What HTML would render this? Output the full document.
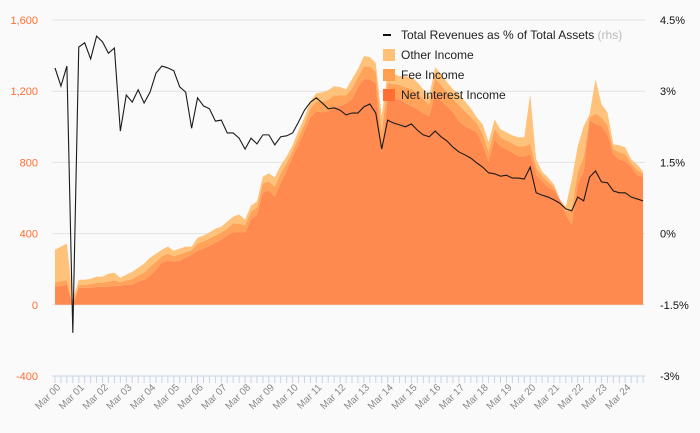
<!DOCTYPE html>
<html><head><meta charset="utf-8"><style>
html,body{margin:0;padding:0;background:#fafafa}
svg{display:block;font-family:"Liberation Sans",sans-serif}
</style></head><body>
<svg id="chart" width="700" height="433"></svg>
<script>
const nii=[101,107,113,0,96,96,96,101,101,101,107,107,113,113,130,141,163,197,237,248,242,248,265,282,304,316,332,349,366,389,406,406,406,479,507,631,642,608,682,755,828,901,975,1054,1087,1082,1087,1110,1116,1132,1155,1223,1268,1268,1245,856,1155,1155,1155,1132,1116,1099,1076,1059,1183,1144,1116,1082,1031,1003,986,969,901,806,930,890,873,856,834,834,845,732,693,659,642,592,507,451,676,749,1037,1014,1003,958,845,817,806,777,727,721];
const fee=[25,25,25,0,15,15,20,22,22,30,30,20,25,30,35,40,50,45,35,40,30,35,30,25,40,40,40,40,40,40,50,50,40,45,40,50,50,55,55,40,35,40,40,50,55,60,65,65,60,45,60,55,70,70,65,110,90,85,80,90,95,90,80,65,90,90,80,75,90,85,70,50,60,50,60,50,50,50,55,55,60,40,30,30,20,0,20,80,70,80,15,60,50,50,30,40,40,20,30,15];
const other=[184,195,206,28,30,30,30,35,35,44,43,25,31,43,43,50,52,45,38,39,32,33,32,20,33,33,34,39,33,39,40,51,33,34,33,40,46,53,46,39,33,39,39,40,47,52,54,53,47,34,53,46,59,54,48,93,62,56,50,63,68,62,55,48,62,62,55,54,62,56,48,35,53,57,52,46,46,46,52,52,278,45,26,27,14,0,25,173,144,174,18,194,74,74,26,39,39,20,32,13];
const ratio=[3.49,3.11,3.53,-2.09,3.93,4.02,3.68,4.16,4.04,3.80,3.91,2.16,2.92,2.77,3.03,2.75,2.98,3.38,3.53,3.49,3.43,3.09,2.98,2.22,2.86,2.69,2.63,2.37,2.39,2.12,2.12,2.01,1.78,2.01,1.89,2.08,2.08,1.87,2.04,2.06,2.12,2.35,2.60,2.77,2.86,2.75,2.63,2.65,2.60,2.50,2.54,2.54,2.67,2.73,2.54,1.78,2.39,2.33,2.29,2.25,2.31,2.18,2.08,2.04,2.16,2.04,1.95,1.82,1.72,1.66,1.59,1.49,1.40,1.28,1.26,1.21,1.23,1.17,1.17,1.15,1.40,0.86,0.81,0.77,0.71,0.64,0.52,0.48,0.77,0.69,1.19,1.32,1.09,1.07,0.90,0.86,0.86,0.77,0.73,0.69];
const years=["00","01","02","03","04","05","06","07","08","09","10","11","12","13","14","15","16","17","18","19","20","21","22","23","24"];
const leftTicks=[1600,1200,800,400,0,-400];
const leftLabels=["1,600","1,200","800","400","0","-400"];
const rightTicks=[4.5,3,1.5,0,-1.5,-3];
const rightLabels=["4.5%","3%","1.5%","0%","-1.5%","-3%"];

const NS="http://www.w3.org/2000/svg";
const svg=document.getElementById('chart');
const X0=55,STEP=5.94,PL=52,PR=645,YT=20,YB=376;
const x=i=>X0+STEP*i;
const yL=v=>YB-(v+400)/2000*(YB-YT);
const yR=p=>YB-(p+3)/7.5*(YB-YT);
function el(t,a,p){const e=document.createElementNS(NS,t);for(const k in a)e.setAttribute(k,a[k]);(p||svg).appendChild(e);return e;}

const grid=el('g',{});


leftTicks.forEach((v,k)=>{
  if(v>-400){const g=el('line',{x1:PL,x2:PR,y1:yL(v),y2:yL(v),stroke:'#e2e2e2','stroke-width':1},grid);
  
  }
  const t=el('text',{x:38,y:yL(v)+4,'text-anchor':'end','font-size':11,fill:'#ff6f31'});
  t.textContent=leftLabels[k];
  
  
});
rightTicks.forEach((p,k)=>{
  const t=el('text',{x:660,y:yR(p)+4,'font-size':11,fill:'#111'});
  t.textContent=rightLabels[k];
  
  
});

function area(lo,hi,fill,name){
  let d='M'+x(0)+','+yL(hi[0]);
  for(let i=1;i<hi.length;i++)d+='L'+x(i)+','+yL(hi[i]);
  for(let i=lo.length-1;i>=0;i--)d+='L'+x(i)+','+yL(lo[i]);
  const p=el('path',{d:d+'Z',fill:fill});
  
  
}
const zero=nii.map(()=>0);
const c1=nii.slice();
const c2=nii.map((v,i)=>v+fee[i]);
const c3=c2.map((v,i)=>v+other[i]);
area(c2,c3,'#ffc27a','other-income-area');
area(c1,c2,'#ffa35a','fee-income-area');
area(zero,c1,'#ff8a50','net-interest-income-area');

let d='';ratio.forEach((p,i)=>{d+=(i?'L':'M')+x(i)+','+yR(p);});
const ln=el('path',{d:d,fill:'none',stroke:'#1a1a1a','stroke-width':1.1});



const ax=el('g',{});


el('line',{x1:PL,x2:PR,y1:YB,y2:YB,stroke:'#c6d4ea'},ax);
for(let i=0;i<100;i++){el('line',{x1:x(i),x2:x(i),y1:YB,y2:YB+7,stroke:'#c6d4ea'},ax);}
years.forEach((yy,k)=>{
  const xx=x(k*4)+6;
  const t=el('text',{x:xx,y:YB+12,'text-anchor':'end','font-size':10,fill:'#888',transform:`rotate(-45 ${xx} ${YB+12})`},ax);
  t.textContent='Mar '+yy;
  
  
});

const lg=el('g',{});


const items=[["line","#111","Total Revenues as % of Total Assets"],["box","#ffc078","Other Income"],["box","#ffa04f","Fee Income"],["box","#ff6f31","Net Interest Income"]];
items.forEach((it,k)=>{
  const yy=35+k*20;
  const g=el('g',{},lg);
  
  
  if(it[0]==='line')el('rect',{x:383,y:yy-1,width:8,height:2,fill:it[1]},g);
  else el('rect',{x:383,y:yy-6,width:12,height:12,fill:it[1]},g);
  const t=el('text',{x:401,y:yy+4,'font-size':12,fill:'#222'},g);
  t.textContent=it[2];
  if(k===0){const s=el('tspan',{fill:'#bbb'},t);s.textContent=' (rhs)';}
});
</script>
</body></html>
